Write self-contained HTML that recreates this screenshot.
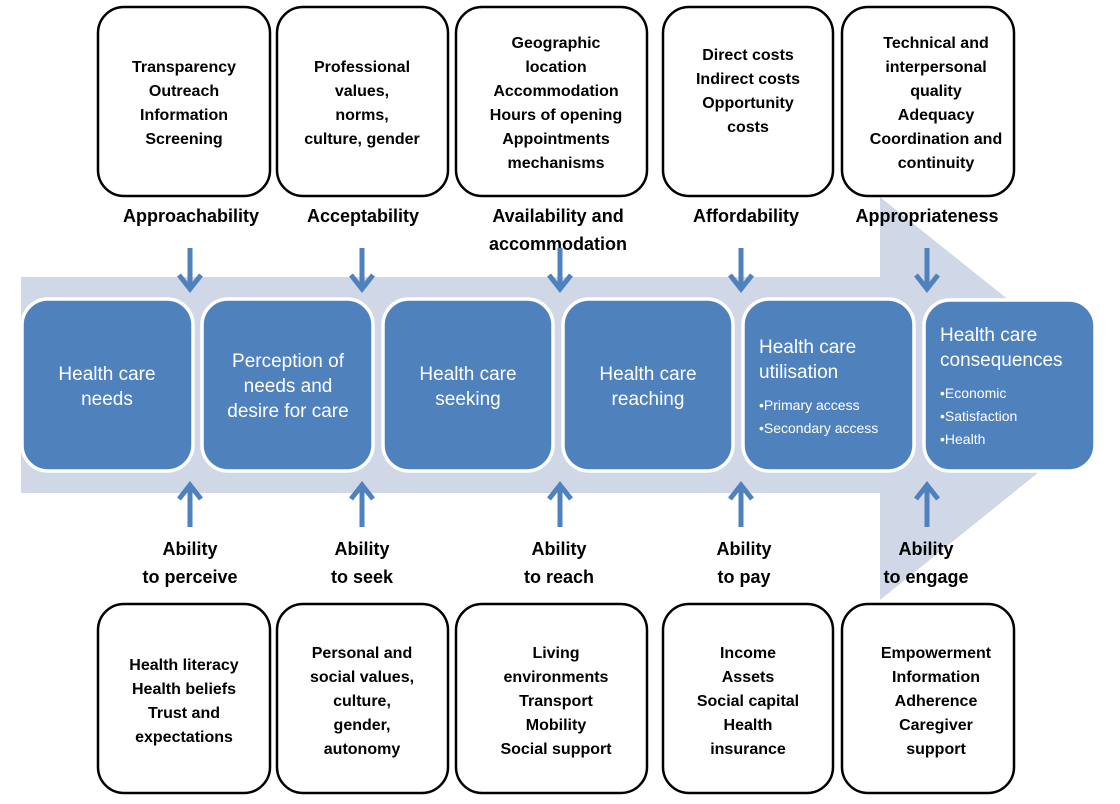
<!DOCTYPE html>
<html><head><meta charset="utf-8"><style>
html,body{margin:0;padding:0;background:#fff;width:1120px;height:804px;overflow:hidden}
svg text{font-family:"Liberation Sans",sans-serif}
</style></head><body>
<svg width="1120" height="804" viewBox="0 0 1120 804" xmlns="http://www.w3.org/2000/svg">
<polygon points="21,277 880,277 880,197 1090,365 1090,431 880,600 880,493 21,493" fill="#d0d8e8"/>
<g fill="#4f81bd" stroke="#fff" stroke-width="3.5">
<rect x="22" y="299" width="171" height="172" rx="26"/>
<rect x="202" y="299" width="171" height="172" rx="26"/>
<rect x="383" y="299" width="170" height="172" rx="26"/>
<rect x="563" y="299" width="170" height="172" rx="26"/>
<rect x="743" y="299" width="171" height="172" rx="26"/>
<rect x="924" y="300" width="171" height="171" rx="26"/>
</g>
<g fill="#fff" font-size="19" text-anchor="middle">
<text x="107" y="380">Health care</text><text x="107" y="405">needs</text>
<text x="288" y="367">Perception of</text><text x="288" y="392">needs and</text><text x="288" y="417">desire for care</text>
<text x="468" y="380">Health care</text><text x="468" y="405">seeking</text>
<text x="648" y="380">Health care</text><text x="648" y="405">reaching</text>
</g>
<g fill="#fff" font-size="19">
<text x="759" y="353">Health care</text><text x="759" y="378">utilisation</text>
<text x="940" y="341">Health care</text><text x="940" y="366">consequences</text>
</g>
<g fill="#fff" font-size="14">
<text x="759" y="410">•Primary access</text><text x="759" y="433">•Secondary access</text>
<text x="940" y="398">•Economic</text><text x="940" y="421">•Satisfaction</text><text x="940" y="444">•Health</text>
</g>
<g fill="none" stroke="#000" stroke-width="2.5">
<rect x="98" y="7" width="172" height="189" rx="26"/>
<rect x="277" y="7" width="171" height="189" rx="26"/>
<rect x="456" y="7" width="191" height="189" rx="26"/>
<rect x="663" y="7" width="170" height="189" rx="26"/>
<rect x="842" y="7" width="172" height="189" rx="26"/>
<rect x="98" y="604" width="172" height="189" rx="26"/>
<rect x="277" y="604" width="171" height="189" rx="26"/>
<rect x="456" y="604" width="191" height="189" rx="26"/>
<rect x="663" y="604" width="170" height="189" rx="26"/>
<rect x="842" y="604" width="172" height="189" rx="26"/>
</g>
<g fill="#000" font-size="16" font-weight="bold" text-anchor="middle">
<text x="184" y="72">Transparency</text><text x="184" y="96">Outreach</text><text x="184" y="120">Information</text><text x="184" y="144">Screening</text>
<text x="362" y="72">Professional</text><text x="362" y="96">values,</text><text x="362" y="120">norms,</text><text x="362" y="144">culture, gender</text>
<text x="556" y="48">Geographic</text><text x="556" y="72">location</text><text x="556" y="96">Accommodation</text><text x="556" y="120">Hours of opening</text><text x="556" y="144">Appointments</text><text x="556" y="168">mechanisms</text>
<text x="748" y="60">Direct costs</text><text x="748" y="84">Indirect costs</text><text x="748" y="108">Opportunity</text><text x="748" y="132">costs</text>
<text x="936" y="48">Technical and</text><text x="936" y="72">interpersonal</text><text x="936" y="96">quality</text><text x="936" y="120">Adequacy</text><text x="936" y="144">Coordination and</text><text x="936" y="168">continuity</text>
<text x="184" y="670">Health literacy</text><text x="184" y="694">Health beliefs</text><text x="184" y="718">Trust and</text><text x="184" y="742">expectations</text>
<text x="362" y="658">Personal and</text><text x="362" y="682">social values,</text><text x="362" y="706">culture,</text><text x="362" y="730">gender,</text><text x="362" y="754">autonomy</text>
<text x="556" y="658">Living</text><text x="556" y="682">environments</text><text x="556" y="706">Transport</text><text x="556" y="730">Mobility</text><text x="556" y="754">Social support</text>
<text x="748" y="658">Income</text><text x="748" y="682">Assets</text><text x="748" y="706">Social capital</text><text x="748" y="730">Health</text><text x="748" y="754">insurance</text>
<text x="936" y="658">Empowerment</text><text x="936" y="682">Information</text><text x="936" y="706">Adherence</text><text x="936" y="730">Caregiver</text><text x="936" y="754">support</text>
</g>
<g fill="#000" font-size="18" font-weight="bold" text-anchor="middle">
<text x="191" y="222">Approachability</text>
<text x="363" y="222">Acceptability</text>
<text x="558" y="222">Availability and</text><text x="558" y="250">accommodation</text>
<text x="746" y="222">Affordability</text>
<text x="927" y="222">Appropriateness</text>
<text x="190" y="555">Ability</text><text x="190" y="583">to perceive</text>
<text x="362" y="555">Ability</text><text x="362" y="583">to seek</text>
<text x="559" y="555">Ability</text><text x="559" y="583">to reach</text>
<text x="744" y="555">Ability</text><text x="744" y="583">to pay</text>
<text x="926" y="555">Ability</text><text x="926" y="583">to engage</text>
</g>
<g stroke="#4f81bd" stroke-width="5" fill="none" stroke-linejoin="miter">
<path d="M190,248V289M179,275L190,289L201,275"/>
<path d="M362,248V289M351,275L362,289L373,275"/>
<path d="M560,248V289M549,275L560,289L571,275"/>
<path d="M741,248V289M730,275L741,289L752,275"/>
<path d="M927,248V289M916,275L927,289L938,275"/>
<path d="M190,527V485M179,499L190,485L201,499"/>
<path d="M362,527V485M351,499L362,485L373,499"/>
<path d="M560,527V485M549,499L560,485L571,499"/>
<path d="M741,527V485M730,499L741,485L752,499"/>
<path d="M927,527V485M916,499L927,485L938,499"/>
</g>
</svg>
</body></html>
